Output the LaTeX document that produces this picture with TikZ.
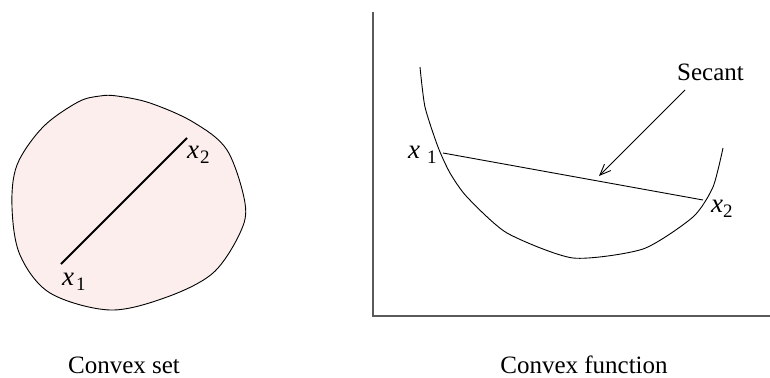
\documentclass[tikz,border=0pt]{standalone}
\usepackage{fontspec}
\setmainfont{Liberation Serif}
\newfontfamily\tnr{Liberation Serif}
\usetikzlibrary{arrows.meta}
\definecolor{blobfill}{RGB}{253,238,238}
\definecolor{axisgray}{RGB}{90,90,90}
\tikzset{
  lbl/.style={inner sep=0pt, anchor=base west, font=\tnr\fontsize{27}{30}\selectfont},
  sublbl/.style={inner sep=0pt, anchor=base west, font=\tnr\fontsize{19}{20}\selectfont},
  caption/.style={inner sep=0pt, anchor=base, font=\tnr\fontsize{25}{30}\selectfont},
  thin curve/.style={line width=0.9pt, black},
}
\begin{document}
\begin{tikzpicture}[x=1pt,y=-1pt]
\useasboundingbox (0,0) rectangle (770,377);
% convex set
\draw[thin curve, fill=blobfill] plot[smooth cycle, tension=0.55] coordinates {
  (12,207) (17,165) (43,127) (78,102) (100,96) (117,96) (150,103) (193,122)
  (227,150) (245,203) (240,233) (213,273) (167,297) (110,310) (50,293) (20,255)};
\coordinate (a1) at (61,264);
\coordinate (a2) at (187,138);
\draw[line width=1.8pt] (a1) -- (a2);
\node[lbl] (ax1) at (62,285) {\itshape x};
\node[sublbl] (ax1s) at (76,290) {1};
\node[lbl] (ax2) at (187,158) {\itshape x};
\node[sublbl] (ax2s) at (200,163) {2};
% axes
\coordinate (otop) at (373,12);
\coordinate (orig) at (373,316);
\coordinate (oright) at (770,316);
\draw[line width=1.1pt, axisgray] (otop) -- (orig) -- (oright);
% convex function
\draw[thin curve] plot[smooth, tension=0.4] coordinates {
  (420,67) (425,107) (438,147) (450,173) (467,197) (507,233) (573,258)
  (643,249) (693,217) (713,187) (723,148)};
\coordinate (s1) at (443,153);
\coordinate (s2) at (703,200);
\draw[thin curve] (s1) -- (s2);
\node[lbl] (bx1) at (408,158) {\itshape x};
\node[sublbl] (bx1s) at (427,163) {1};
\node[lbl] (bx2) at (711,212) {\itshape x};
\node[sublbl] (bx2s) at (723,217) {2};
\node[lbl, font=\tnr\fontsize{25}{30}\selectfont] (sec) at (677,81) {Secant};
\coordinate (atail) at (685,90);
\coordinate (ahead) at (599,176);
\draw[thin curve, -{Straight Barb[length=11pt,width=9pt]}] (atail) -- (ahead);
% captions
\node[caption] (c1) at (124,373) {Convex set};
\node[caption] (c2) at (584,373) {Convex function};
\end{tikzpicture}
\end{document}
